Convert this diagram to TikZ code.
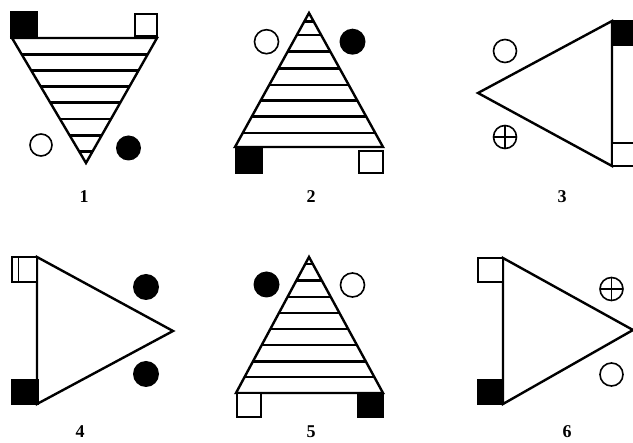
\documentclass[tikz,border=0pt]{standalone}
\usepackage{fontspec}
\setmainfont{Liberation Serif}
\begin{document}
\begin{tikzpicture}[x=1pt,y=-1pt,
  tri/.style={draw=black,line width=2.4pt,line join=miter},
  hatchline/.style={line width=2.8pt},
  bsq/.style={fill=black,draw=black,line width=1.5pt},
  wsq/.style={fill=white,draw=black,line width=1.7pt},
  wcirc/.style={draw=black,fill=white,line width=1.6pt},
  bcirc/.style={fill=black},
  lab/.style={font=\bfseries\fontsize{18}{18}\selectfont,inner sep=0pt}]
\useasboundingbox (0,0) rectangle (633,443);
\clip (0,0) rectangle (633,443);

% ---------- Figure 1 ----------
\begin{scope}
  \clip (12,38) -- (157,38) -- (86,163) -- cycle;
  \foreach \yy in {54.2,70.4,86.6,102.8,119,135.2,151.4}
    \draw[hatchline] (0,\yy) -- (200,\yy);
\end{scope}
\draw[tri] (12,38) -- (157,38) -- (86,163) -- cycle;
\draw[bsq] (11,12) rectangle (37,38);
\draw[wsq] (135,14) rectangle (157,36);
\draw[wcirc] (41,145) circle[radius=11];
\fill[bcirc] (128.5,148) circle[radius=12.5];
\node[lab] (l1) at (84,197) {1};

% ---------- Figure 2 ----------
\begin{scope}
  \clip (309,13) -- (235,147) -- (383,147) -- cycle;
  \foreach \yy in {21.7,35,51.7,68.3,85,100.5,116.7,133}
    \draw[hatchline] (200,\yy) -- (420,\yy);
\end{scope}
\draw[tri] (309,13) -- (235,147) -- (383,147) -- cycle;
\draw[bsq] (236,148) rectangle (262,173);
\draw[wsq] (359,151) rectangle (383,173);
\draw[wcirc] (266.5,41.7) circle[radius=12];
\fill[bcirc] (352.5,41.7) circle[radius=13];
\node[lab] (l2) at (311,197) {2};

% ---------- Figure 3 ----------
\draw[tri] (478,93) -- (612,21) -- (612,166) -- cycle;
\draw[bsq] (612,21) rectangle (645,45);
\draw[wsq] (612,143) rectangle (645,166);
\draw[line width=2.4pt] (612,21) -- (612,166);
\draw[wcirc] (505,51) circle[radius=11.5];
\draw[wcirc] (505,137) circle[radius=11.5];
\draw[line width=1.6pt] (493.5,137) -- (516.5,137) (505,125.5) -- (505,148.5);
\node[lab] (l3) at (562,197) {3};

% ---------- Figure 4 ----------
\draw[tri] (37,257) -- (173,331) -- (37,404) -- cycle;
\draw[wsq] (12,257) rectangle (37,282);
\draw[line width=1.4pt] (18.5,257) -- (18.5,282);
\draw[bsq] (12,380) rectangle (38,404);
\fill[bcirc] (146,287) circle[radius=13];
\fill[bcirc] (146,374) circle[radius=13];
\node[lab] (l4) at (80,432) {4};

% ---------- Figure 5 ----------
\begin{scope}
  \clip (309,257) -- (236,393) -- (383,393) -- cycle;
  \foreach \yy in {264,280.5,297,313,329,345,361.5,377}
    \draw[hatchline] (200,\yy) -- (420,\yy);
\end{scope}
\draw[tri] (309,257) -- (236,393) -- (383,393) -- cycle;
\draw[wsq] (237,393) rectangle (261,417);
\draw[bsq] (358,393) rectangle (383,417);
\fill[bcirc] (266.5,284.5) circle[radius=13];
\draw[wcirc] (352.5,285) circle[radius=12];
\node[lab] (l5) at (311,432) {5};

% ---------- Figure 6 ----------
\draw[tri] (503,258) -- (633,330) -- (503,404) -- cycle;
\draw[wsq] (478,258) rectangle (503,282);
\draw[bsq] (478,380) rectangle (503,404);
\draw[wcirc] (611.5,289) circle[radius=11.5];
\draw[line width=1.6pt] (600,289) -- (623,289) (611.5,277.5) -- (611.5,300.5);
\draw[wcirc] (611.5,374.5) circle[radius=11.5];
\node[lab] (l6) at (567,432) {6};
\end{tikzpicture}
\end{document}
